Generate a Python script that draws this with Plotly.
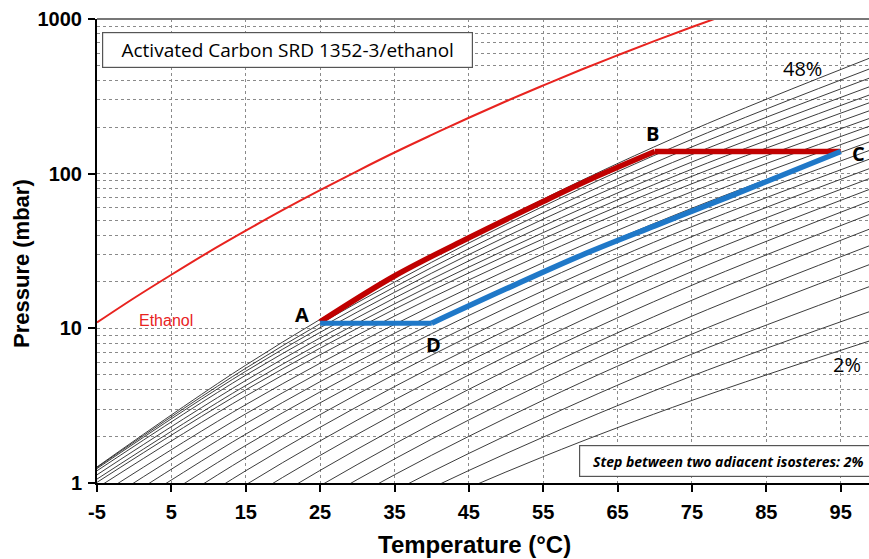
import plotly.graph_objects as go

# ---------------- data ----------------
# Isosteres (loading in %), pressure in mbar at the temperatures below
ISO_TEMPS = [-5, 15, 35, 55, 75, 100]
ISO_LOADINGS = [2, 4, 6, 8, 10, 12, 14, 16, 18, 20, 22, 24,
                26, 28, 30, 32, 34, 36, 38, 40, 42, 44, 46, 48]
ISO_PRESSURES = [
    [0.0557, 0.193, 0.570, 1.48, 3.42, 8.63],   # 2 %
    [0.0574, 0.220, 0.710, 1.98, 4.92, 13.4],   # 4 %
    [0.0635, 0.261, 0.891, 2.62, 6.82, 19.5],   # 6 %
    [0.0740, 0.317, 1.13, 3.43, 9.18, 27.1],    # 8 %
    [0.0902, 0.394, 1.43, 4.41, 12.0, 35.9],    # 10 %
    [0.112, 0.493, 1.79, 5.58, 15.2, 46.0],     # 12 %
    [0.141, 0.620, 2.25, 6.98, 19.0, 57.2],     # 14 %
    [0.179, 0.778, 2.80, 8.61, 23.3, 69.7],     # 16 %
    [0.227, 0.973, 3.45, 10.5, 28.1, 83.0],     # 18 %
    [0.284, 1.20, 4.20, 12.6, 33.4, 97.5],      # 20 %
    [0.352, 1.46, 5.04, 15.0, 39.2, 113],       # 22 %
    [0.428, 1.75, 5.97, 17.5, 45.5, 130],       # 24 %
    [0.513, 2.07, 6.99, 20.3, 52.3, 148],       # 26 %
    [0.605, 2.42, 8.11, 23.4, 59.8, 168],       # 28 %
    [0.705, 2.80, 9.29, 26.6, 67.6, 188],       # 30 %
    [0.815, 3.21, 10.6, 30.3, 76.5, 212],       # 32 %
    [0.929, 3.65, 12.0, 34.1, 86.1, 238],       # 34 %
    [1.01, 4.00, 13.3, 37.9, 96.2, 267],        # 36 %
    [1.06, 4.27, 14.4, 41.6, 107, 301],         # 38 %
    [1.13, 4.60, 15.7, 45.9, 119, 338],         # 40 %
    [1.20, 4.98, 17.1, 50.8, 133, 382],         # 42 %
    [1.24, 5.28, 18.5, 55.9, 149, 435],         # 44 %
    [1.26, 5.52, 19.9, 61.5, 167, 499],         # 46 %
    [1.27, 5.78, 21.6, 68.5, 191, 586],         # 48 %
]

# Ethanol saturation curve
ETH_T = [-5, 0, 5, 10, 15, 20, 25, 30, 35, 40, 45, 50, 55, 60, 65, 70, 75, 80]
ETH_P = [10.9, 15.7, 22.2, 31.1, 42.8, 58.3, 78.3, 104, 137, 178, 230, 294,
         372, 468, 583, 722, 887, 1083]

# Cycle: A -> B (heating along the 48 % isostere), B -> C, A -> D -> C
AB_T = [25, 35, 45, 55, 62, 70]
AB_P = [11.0, 21.8, 38.5, 66.0, 95.0, 139]
BC_T = [70, 95]
BC_P = [139, 139]
AD_T = [25, 40]
AD_P = [10.8, 10.8]
DC_T = [40, 50, 60, 70, 80, 95]
DC_P = [10.8, 18.0, 29.5, 46.0, 71.0, 139]

X_TICKS = [-5, 5, 15, 25, 35, 45, 55, 65, 75, 85, 95]
Y_TICKS = [1, 10, 100, 1000]

# ---------------- figure ----------------
fig = go.Figure()

for load, pres in zip(ISO_LOADINGS, ISO_PRESSURES):
    fig.add_trace(go.Scatter(
        x=ISO_TEMPS, y=pres, mode="lines",
        line=dict(color="#262626", width=0.9, shape="spline"),
        name=f"{load}%", hoverinfo="name", showlegend=False))

fig.add_trace(go.Scatter(
    x=ETH_T, y=ETH_P, mode="lines",
    line=dict(color="#e8231f", width=2, shape="spline"),
    name="Ethanol", showlegend=False))

RED = "#c00000"
BLUE = "#1f78c8"
fig.add_trace(go.Scatter(x=AB_T, y=AB_P, mode="lines",
                         line=dict(color=RED, width=5.5, shape="spline"),
                         name="A-B", showlegend=False))
fig.add_trace(go.Scatter(x=BC_T, y=BC_P, mode="lines",
                         line=dict(color=RED, width=5.5),
                         name="B-C", showlegend=False))
fig.add_trace(go.Scatter(x=AD_T, y=AD_P, mode="lines",
                         line=dict(color=BLUE, width=5),
                         name="A-D", showlegend=False))
fig.add_trace(go.Scatter(x=DC_T, y=DC_P, mode="lines",
                         line=dict(color=BLUE, width=5.5, shape="spline"),
                         name="D-C", showlegend=False))

L, R, T, B = 97, 0, 19, 76
W, H = 869, 559
PW, PH = W - L - R, H - T - B


def px(xp):
    return (xp - L) / PW


def py(yp):
    return (H - B - yp) / PH


arial = "Liberation Sans, Arial, sans-serif"
cal = "Open Sans, sans-serif"

ann = []
for txt, xp, yp in [("A", 302, 314), ("B", 652, 133), ("C", 858, 153),
                    ("D", 433, 344)]:
    ann.append(dict(xref="paper", yref="paper", x=px(xp), y=py(yp),
                    text="<b>" + txt + "</b>", showarrow=False,
                    font=dict(family=cal, size=20, color="black"),
                    xanchor="center", yanchor="middle"))
ann.append(dict(xref="paper", yref="paper", x=px(166), y=py(320),
                text="Ethanol", showarrow=False,
                font=dict(family=arial, size=16, color="#e8231f"),
                xanchor="center", yanchor="middle"))
ann.append(dict(xref="paper", yref="paper", x=px(802), y=py(68),
                text="48%", showarrow=False,
                font=dict(family=cal, size=20, color="black"),
                xanchor="center", yanchor="middle"))
ann.append(dict(xref="paper", yref="paper", x=px(847), y=py(364),
                text="2%", showarrow=False,
                font=dict(family=cal, size=20, color="black"),
                xanchor="center", yanchor="middle"))
ann.append(dict(xref="paper", yref="paper", x=px(287.5), y=py(50),
                text="Activated Carbon SRD 1352-3/ethanol", showarrow=False,
                font=dict(family=cal, size=19, color="black"),
                xanchor="center", yanchor="middle",
                width=367, height=32, bgcolor="white",
                bordercolor="#555555", borderwidth=1.2, borderpad=1))
ann.append(dict(xref="paper", yref="paper", x=px(728), y=py(461),
                text="<b><i>Step between two adiacent isosteres: 2%</i></b>",
                showarrow=False,
                font=dict(family=cal, size=14, color="black"),
                xanchor="center", yanchor="middle",
                width=294, height=28, bgcolor="white",
                bordercolor="#555555", borderwidth=1.2, borderpad=1))
# axis titles
ann.append(dict(xref="paper", yref="paper", x=px(474), y=py(544),
                text="<b>Temperature (°C)</b>", showarrow=False,
                font=dict(family=arial, size=24, color="black"),
                xanchor="center", yanchor="middle"))
ann.append(dict(xref="paper", yref="paper", x=px(21), y=py(264),
                text="<b>Pressure (mbar)</b>", showarrow=False, textangle=-90,
                font=dict(family=arial, size=22, color="black"),
                xanchor="center", yanchor="middle"))

fig.update_layout(
    width=W, height=H,
    margin=dict(l=L, r=R, t=T, b=B),
    paper_bgcolor="white", plot_bgcolor="white",
    annotations=ann,
    xaxis=dict(
        range=[-5, 98.8], tickvals=X_TICKS,
        ticktext=[str(v) for v in X_TICKS],
        showline=True, linecolor="black", linewidth=2,
        ticks="outside", ticklen=7, tickwidth=1.5, tickcolor="black",
        ticklabelstandoff=3,
        showgrid=True, gridcolor="#8a8a8a", griddash="dot", gridwidth=1,
        zeroline=False,
        tickfont=dict(family=arial, size=20, color="black"),
    ),
    yaxis=dict(
        type="log", range=[0, 3], tickvals=Y_TICKS,
        ticktext=["<b>%d</b>" % v for v in Y_TICKS],
        showline=True, linecolor="black", linewidth=2,
        ticks="outside", ticklen=7, tickwidth=1.5, tickcolor="black",
        ticklabelstandoff=2,
        showgrid=True, gridcolor="#8a8a8a", griddash="dot", gridwidth=1,
        minor=dict(dtick="D1", showgrid=True, gridcolor="#8a8a8a",
                   griddash="dot", gridwidth=1, ticks=""),
        zeroline=False,
        tickfont=dict(family=arial, size=20, color="black"),
    ),
    shapes=[dict(type="line", xref="paper", yref="paper", x0=0, x1=1,
                 y0=1, y1=1, line=dict(color="#777777", width=2))],
)
fig.update_xaxes(ticktext=["<b>%d</b>" % v for v in X_TICKS])

fig.write_html("out.html")
